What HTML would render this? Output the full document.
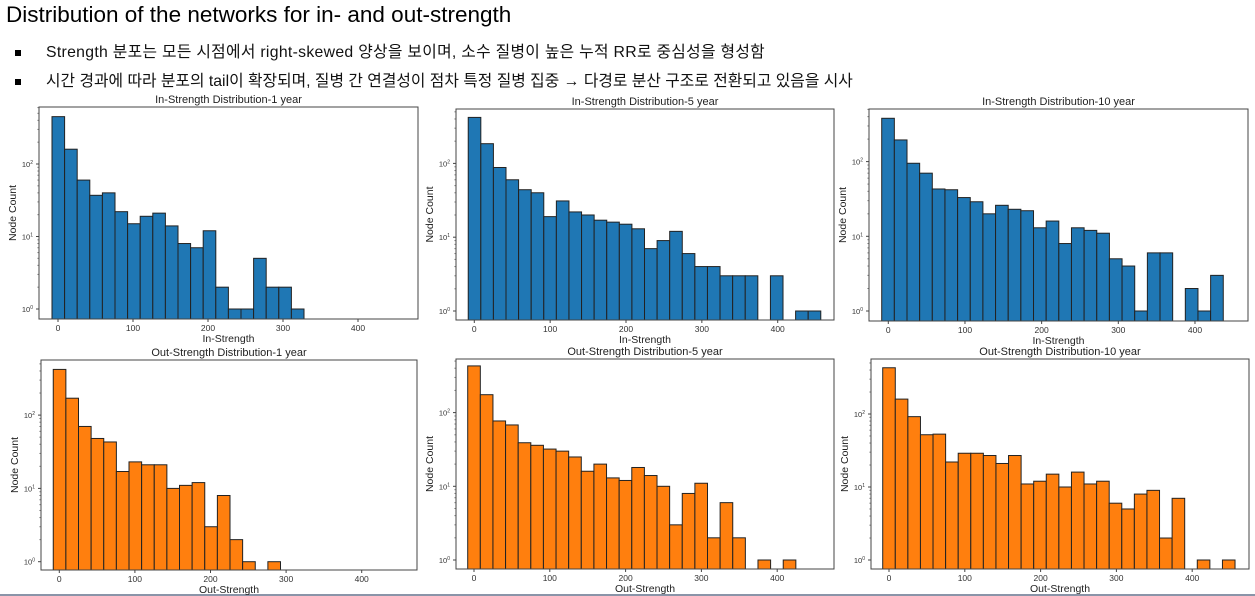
<!DOCTYPE html>
<html><head><meta charset="utf-8">
<style>
body{margin:0;width:1255px;height:596px;background:#fff;overflow:hidden;position:relative;font-family:"Liberation Sans","Noto Sans CJK KR",sans-serif;}
#hdr{position:absolute;left:6px;top:2px;font-size:22.5px;color:#000;}
.bul{position:absolute;left:15px;font-size:15.8px;color:#111;white-space:nowrap;}
.bul span{display:inline-block;width:6px;height:6px;background:#000;margin-right:25px;vertical-align:middle;}
svg{position:absolute;left:0;top:0;}
</style></head><body>
<div id="hdr">Distribution of the networks for in- and out-strength</div>
<div class="bul" style="top:39px;letter-spacing:0.3px"><span></span>Strength 분포는 모든 시점에서 right-skewed 양상을 보이며, 소수 질병이 높은 누적 RR로 중심성을 형성함</div>
<div class="bul" style="top:68px"><span></span>시간 경과에 따라 분포의 tail이 확장되며, 질병 간 연결성이 점차 특정 질병 집중 → 다경로 분산 구조로 전환되고 있음을 시사</div>
<div style="position:absolute;left:0;top:594px;width:1255px;height:2px;background:#8a94a8"></div>
<svg id="c" width="1255" height="596"></svg>
<script>
const inCounts1=[450,160,60,37,40,22,15,19,21,14,8,7,12,2,1,1,5,2,2,1];
const inCounts5=[420,185,88,60,44,40,19,31,22,20,17,16,15,13,7,9,12,6,4,4,3,3,3,0,3,0,1,1];
const inCounts10=[380,195,95,70,43,42,33,29,20,26,23,22,13,16,8,13,12,11,5,4,1,6,6,0,2,1,3];
const outCounts1=[420,170,70,48,43,17,23,21,21,10,11,12,3,8,2,1,0,1];
const outCounts5=[430,175,77,68,39,36,32,30,25,16,20,13,12,18,14,10,3,8,11,2,6,2,0,1,0,1];
const outCounts10=[430,160,92,52,53,22,29,29,27,21,27,11,12,15,10,16,11,12,6,5,8,9,2,7,0,1,0,1];
const binStarts=[-8,-8,-8.6,-8,-8.3,-8.3];
const binWidths=[16.8,16.6,16.5,16.7,16.65,16.6];
const xTicks=[0,100,200,300,400];
const yTickExp=[0,1,2];
const titles=["In-Strength Distribution-1 year","In-Strength Distribution-5 year","In-Strength Distribution-10 year","Out-Strength Distribution-1 year","Out-Strength Distribution-5 year","Out-Strength Distribution-10 year"];
const xLabels=["In-Strength","In-Strength","In-Strength","Out-Strength","Out-Strength","Out-Strength"];
const allCounts=[inCounts1,inCounts5,inCounts10,outCounts1,outCounts5,outCounts10];
const L=[
 {l:39,r:418,t:107,b:319,x0:58,k:0.75,y0:309,dec:72.5,col:"#1f77b4"},
 {l:456,r:834,t:109,b:320,x0:474.3,k:0.7585,y0:311,dec:73.8,col:"#1f77b4"},
 {l:869,r:1248,t:109,b:321,x0:888.3,k:0.7667,y0:311,dec:74.7,col:"#1f77b4"},
 {l:41,r:417,t:360,b:570,x0:59.3,k:0.756,y0:561.7,dec:73.3,col:"#ff7f0e"},
 {l:456,r:834,t:359,b:569,x0:474,k:0.758,y0:560,dec:73.7,col:"#ff7f0e"},
 {l:871,r:1249,t:359,b:569,x0:889,k:0.758,y0:560,dec:73,col:"#ff7f0e"}];
const svg=document.getElementById('c');const NS="http://www.w3.org/2000/svg";
function mk(t,a,p){const e=document.createElementNS(NS,t);for(const q in a)e.setAttribute(q,a[q]);(p||svg).appendChild(e);return e;}
allCounts.forEach((counts,i)=>{
 const g=L[i];
 const xs=v=>g.x0+v*g.k;
 const ys=v=>g.y0-Math.log10(v)*g.dec;
 const grp=mk('g',{});
 
 
 mk('rect',{x:g.l,y:g.t,width:g.r-g.l,height:g.b-g.t,fill:'#fff',stroke:'#444','stroke-width':1},grp);
 counts.forEach((c,j)=>{
  if(c<=0)return;
  const x1=xs(binStarts[i]+j*binWidths[i]),x2=xs(binStarts[i]+(j+1)*binWidths[i]);
  const y=ys(c);
  const r=mk('rect',{x:x1,y:y,width:x2-x1,height:g.b-y,fill:g.col,stroke:'#222','stroke-width':1},grp);
  
  
 });
 mk('rect',{x:g.l,y:g.t,width:g.r-g.l,height:g.b-g.t,fill:'none',stroke:'#444','stroke-width':1},grp);
 xTicks.forEach(v=>{const x=xs(v);mk('line',{x1:x,x2:x,y1:g.b,y2:g.b+3,stroke:'#444'},grp);
  const t=mk('text',{x:x,y:g.b+12,'font-size':8.5,'text-anchor':'middle',fill:'#333'},grp);t.textContent=v;
  });
 yTickExp.forEach(e=>{const y=ys(Math.pow(10,e));mk('line',{x1:g.l-3,x2:g.l,y1:y,y2:y,stroke:'#444'},grp);
  const t=mk('text',{x:g.l-6,y:y+3,'font-size':7.5,'text-anchor':'end',fill:'#333'},grp);t.textContent='10';
  const s=mk('tspan',{dy:-3,'font-size':5},t);s.textContent=e;
  
  for(let m=2;m<10;m++){const yy=ys(m*Math.pow(10,e));if(yy>g.t&&yy<g.b)mk('line',{x1:g.l-1.5,x2:g.l,y1:yy,y2:yy,stroke:'#666'},grp);}});
 const tt=mk('text',{x:(g.l+g.r)/2,y:g.t-4,'font-size':11,'text-anchor':'middle',fill:'#222'},grp);tt.textContent=titles[i];
 
 const xl=mk('text',{x:(g.l+g.r)/2,y:g.b+23,'font-size':10.5,'text-anchor':'middle',fill:'#222'},grp);xl.textContent=xLabels[i];
 
 const yx=g.l-23,yy=(g.t+g.b)/2;
 const yl=mk('text',{x:yx,y:yy,'font-size':10.5,'text-anchor':'middle',fill:'#222',transform:`rotate(-90 ${yx} ${yy})`},grp);yl.textContent='Node Count';
 
});
</script>
</body></html>
